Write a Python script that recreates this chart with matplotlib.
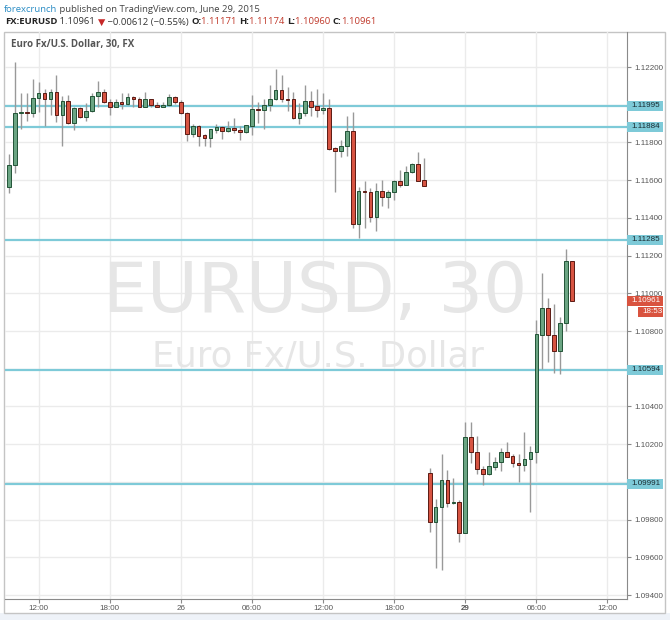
import matplotlib
matplotlib.use("Agg")
from matplotlib import pyplot as plt
from matplotlib.patches import Rectangle
from matplotlib import transforms
import numpy as np

# EUR/USD 30 min candles, 25 Jun 09:30 -> 29 Jun 08:30 (weekend skipped)
opens = [1.11562, 1.11680, 1.11954, 1.11961, 1.11956, 1.12034, 1.12061, 1.12029, 1.12069, 1.11945,
         1.12021, 1.11901, 1.11981, 1.11933, 1.11968, 1.12046, 1.12066, 1.12013, 1.11989, 1.12016,
         1.12005, 1.12039, 1.12030, 1.11989, 1.12030, 1.11997, 1.11989, 1.11997, 1.12039, 1.12016,
         1.11958, 1.11843, 1.11887, 1.11838, 1.11825, 1.11866, 1.11882, 1.11863, 1.11875, 1.11868,
         1.11854, 1.11889, 1.11977, 1.11970, 1.11997, 1.12030, 1.12078, 1.12032, 1.12030, 1.11928,
         1.11958, 1.12020, 1.11993, 1.11970, 1.11981, 1.11769, 1.11756, 1.11781, 1.11861, 1.11369,
         1.11542, 1.11537, 1.11405, 1.11542, 1.11509, 1.11537, 1.11595, 1.11574, 1.11643, 1.11686,
         1.11601, 1.10045, 1.09789, 1.09868, 1.10010, 1.09888, 1.09892, 1.09730, 1.10236, 1.10160,
         1.10070, 1.10042, 1.10081, 1.10104, 1.10160, 1.10137, 1.10099, 1.10088, 1.10120, 1.10160,
         1.10779, 1.10920, 1.10779, 1.10696, 1.10841, 1.11171]
highs = [1.11737, 1.12228, 1.12064, 1.12061, 1.12135, 1.12122, 1.12083, 1.12082, 1.12159, 1.12046,
         1.12052, 1.11986, 1.11986, 1.12008, 1.12064, 1.12127, 1.12083, 1.12029, 1.12032, 1.12061,
         1.12064, 1.12048, 1.12039, 1.12069, 1.12032, 1.12013, 1.12016, 1.12056, 1.12046, 1.12025,
         1.11963, 1.11898, 1.11891, 1.11845, 1.11873, 1.11898, 1.11889, 1.11914, 1.11928, 1.11887,
         1.11894, 1.12052, 1.12013, 1.12029, 1.12105, 1.12188, 1.12159, 1.12092, 1.12066, 1.12008,
         1.12105, 1.12073, 1.12082, 1.12061, 1.12029, 1.11774, 1.11813, 1.11940, 1.11961, 1.11565,
         1.11595, 1.11557, 1.11583, 1.11601, 1.11548, 1.11601, 1.11654, 1.11675, 1.11692, 1.11751,
         1.11716, 1.10072, 1.09907, 1.10148, 1.10063, 1.10019, 1.09904, 1.10316, 1.10316, 1.10245,
         1.10084, 1.10157, 1.10134, 1.10178, 1.10211, 1.10149, 1.10148, 1.10264, 1.10190, 1.10858,
         1.11106, 1.10973, 1.10943, 1.10876, 1.11235, 1.11174]
lows = [1.11530, 1.11636, 1.11870, 1.11915, 1.11936, 1.11963, 1.11887, 1.11945, 1.11907, 1.11781,
        1.11898, 1.11866, 1.11928, 1.11915, 1.11963, 1.11986, 1.12008, 1.11944, 1.11986, 1.11979,
        1.11997, 1.11986, 1.11986, 1.11986, 1.11986, 1.11986, 1.11988, 1.11995, 1.12004, 1.11950,
        1.11809, 1.11830, 1.11783, 1.11781, 1.11777, 1.11852, 1.11818, 1.11854, 1.11848, 1.11813,
        1.11848, 1.11839, 1.11905, 1.11873, 1.11968, 1.12025, 1.12016, 1.11967, 1.11924, 1.11898,
        1.11940, 1.11940, 1.11936, 1.11950, 1.11762, 1.11539, 1.11721, 1.11730, 1.11345, 1.11292,
        1.11348, 1.11380, 1.11330, 1.11463, 1.11451, 1.11495, 1.11565, 1.11573, 1.11636, 1.11595,
        1.11569, 1.09736, 1.09542, 1.09533, 1.09865, 1.09883, 1.09683, 1.09728, 1.10102, 1.10042,
        1.09983, 1.10036, 1.10063, 1.10059, 1.10132, 1.10081, 1.10001, 1.10059, 1.09842, 1.10099,
        1.10597, 1.10637, 1.10576, 1.10572, 1.10802, 1.10960]
closes = [1.11680, 1.11954, 1.11961, 1.11956, 1.12034, 1.12061, 1.12029, 1.12069, 1.11945, 1.12021,
          1.11901, 1.11981, 1.11933, 1.11968, 1.12046, 1.12066, 1.12013, 1.11989, 1.12014, 1.12005,
          1.12039, 1.12029, 1.11989, 1.12030, 1.11997, 1.11989, 1.11998, 1.12041, 1.12013, 1.11954,
          1.11843, 1.11887, 1.11834, 1.11825, 1.11870, 1.11882, 1.11863, 1.11875, 1.11866, 1.11854,
          1.11891, 1.11976, 1.11970, 1.11997, 1.12030, 1.12078, 1.12029, 1.12027, 1.11928, 1.11958,
          1.12020, 1.11989, 1.11970, 1.11981, 1.11764, 1.11756, 1.11781, 1.11861, 1.11369, 1.11542,
          1.11536, 1.11405, 1.11542, 1.11509, 1.11537, 1.11595, 1.11574, 1.11643, 1.11686, 1.11597,
          1.11571, 1.09789, 1.09868, 1.10010, 1.09890, 1.09892, 1.09730, 1.10236, 1.10160, 1.10070,
          1.10042, 1.10084, 1.10107, 1.10160, 1.10134, 1.10099, 1.10088, 1.10120, 1.10160, 1.10783,
          1.10920, 1.10777, 1.10696, 1.10841, 1.11171, 1.10961]

# horizontal support / resistance levels
levels = [1.11995, 1.11884, 1.11285, 1.10594, 1.09991]

# x axis: bar index of each time label
time_ticks = [5, 17, 29, 41, 53, 65, 77, 89, 101]
time_labels = ["12:00", "18:00", "26", "06:00", "12:00", "18:00", "29", "06:00", "12:00"]
price_ticks = [1.094, 1.096, 1.098, 1.100, 1.102, 1.104, 1.106, 1.108,
               1.110, 1.112, 1.114, 1.116, 1.118, 1.120, 1.122]
# tick labels hidden behind the level tags
hidden_ticks = [1.100, 1.106, 1.120]

last_price = 1.10961
countdown = "18:53"

UP, UP_EDGE = "#6ba583", "#225437"
DOWN, DOWN_EDGE = "#d75442", "#5b1a13"
WICK = "#999999"
LEVEL = "#7ecad8"
TAG_RED = "#d9533f"
AXFONT = 5.8

W, H = 670, 620
PX = 0.03007 / 567  # price per pixel on the y axis
fig = plt.figure(figsize=(W / 100, H / 100), dpi=100)
fig.patch.set_facecolor("white")

# light strip under the chart frame + frame itself
fig.add_artist(Rectangle((0, 0), 1, 7 / H, transform=fig.transFigure,
                         facecolor="#eef2f8", edgecolor="none", zorder=0))
fig.add_artist(Rectangle((4 / W, 7 / H), 661 / W, 581 / H, transform=fig.transFigure,
                         facecolor="white", edgecolor="#c4c4c4", lw=1, zorder=0))

ax = fig.add_axes([5 / W, 21 / H, 622 / W, 567 / H])
ax.set_facecolor("none")

o = np.array(opens)
c = np.array(closes)
hi = np.array(highs)
lo = np.array(lows)
x = np.arange(len(o))
up = c >= o

ax.vlines(x, lo, hi, color=WICK, lw=1, zorder=3)
body_lo = np.minimum(o, c)
body_h = np.maximum(np.abs(c - o), 0.00002)
ax.bar(x[up], body_h[up], bottom=body_lo[up], width=0.62, color=UP,
       edgecolor=UP_EDGE, linewidth=0.7, zorder=4)
ax.bar(x[~up], body_h[~up], bottom=body_lo[~up], width=0.62, color=DOWN,
       edgecolor=DOWN_EDGE, linewidth=0.7, zorder=4)

for lv in levels:
    ax.axhline(lv, color=LEVEL, lw=1.6, zorder=2)

ax.set_xlim(-0.68, 104.3)
ax.set_ylim(1.09379, 1.12386)

# grid + ticks
ax.set_xticks(time_ticks)
ax.set_xticklabels(time_labels)
ax.set_yticks(price_ticks)
ax.set_yticklabels(["" if p in hidden_ticks else f"{p:.5f}" for p in price_ticks])
ax.grid(True, color="#ebebeb", lw=1, zorder=0)
ax.set_axisbelow(True)

ax.yaxis.tick_right()
ax.tick_params(axis="both", length=3, width=0.8, color="#8a8a8a",
               labelcolor="#555555", labelsize=AXFONT)
ax.tick_params(axis="x", pad=1.5)
ax.tick_params(axis="y", pad=2)
for lab in ax.get_yticklabels() + ax.get_xticklabels():
    lab.set_family("Liberation Sans")
ax.get_xticklabels()[6].set_fontweight("bold")
for side in ["top", "left"]:
    ax.spines[side].set_visible(False)
for side in ["right", "bottom"]:
    ax.spines[side].set_color("#8a8a8a")
    ax.spines[side].set_linewidth(0.8)

# price tags on the right axis
tr = transforms.blended_transform_factory(ax.transAxes, ax.transData)


def tag(price, text, face, txtcolor, x0_px, x1_px, h_px=10):
    ax.add_patch(Rectangle((1 + x0_px / 622, price - h_px / 2 * PX), (x1_px - x0_px) / 622,
                           h_px * PX, transform=tr, facecolor=face, edgecolor="none",
                           clip_on=False, zorder=6))
    ax.text(1 + (x0_px + 4.5) / 622, price, text, transform=tr, ha="left", va="center",
            fontsize=AXFONT, family="Liberation Sans", color=txtcolor, zorder=7, clip_on=False)


for lv in levels:
    tag(lv, f"{lv:.5f}", LEVEL, "#1a2a30", 0, 36)
tag(last_price, f"{last_price:.5f}", TAG_RED, "white", 0, 36)
tag(last_price - 11 * PX, countdown, TAG_RED, "white", 11, 36)

# watermark
ax.text(0.498, 0.54, "EURUSD, 30", transform=ax.transAxes, ha="center", va="center",
        fontsize=50, color="#e6e6e6", family="DejaVu Sans", zorder=1)
ax.text(0.503, 0.428, "Euro Fx/U.S. Dollar", transform=ax.transAxes, ha="center", va="center",
        fontsize=25.5, color="#e6e6e6", family="DejaVu Sans", zorder=1)

# chart title inside the frame
fig.text(11 / W, 1 - 44 / H, "Euro Fx/U.S. Dollar, 30, FX", ha="left", va="center",
         fontsize=7, color="#555555", fontweight="bold", family="Open Sans")


def chain(parts, x0, y0, size):
    prev = fig.text(x0, y0, parts[0][0], color=parts[0][1], fontweight=parts[0][2],
                    fontsize=size, family=["Open Sans", "DejaVu Sans"], va="center", ha="left")
    for s, col, wt in parts[1:]:
        prev = ax.annotate(s, xy=(1, 0.5), xycoords=prev, va="center", ha="left",
                           color=col, fontweight=wt, fontsize=size,
                           family=["Open Sans", "DejaVu Sans"], annotation_clip=False)


chain([("forexcrunch", "#2a8cc4", "normal"),
       (" published on TradingView.com, June 29, 2015", "#444444", "normal")],
      4 / W, 1 - 9.5 / H, 6.8)
RED = "#c0392b"
chain([("FX:EURUSD", "#222222", "bold"),
       (" 1.10961 ", "#333333", "normal"),
       ("\u25bc", "#c62828", "normal"),
       (" \u22120.00612 (\u22120.55%) ", "#333333", "normal"),
       ("O:", "#222222", "bold"), ("1.11171 ", RED, "normal"),
       ("H:", "#222222", "bold"), ("1.11174 ", RED, "normal"),
       ("L:", "#222222", "bold"), ("1.10960 ", RED, "normal"),
       ("C:", "#222222", "bold"), ("1.10961", RED, "normal")],
      5 / W, 1 - 22 / H, 6.8)

fig.savefig("out.png", dpi=100)
